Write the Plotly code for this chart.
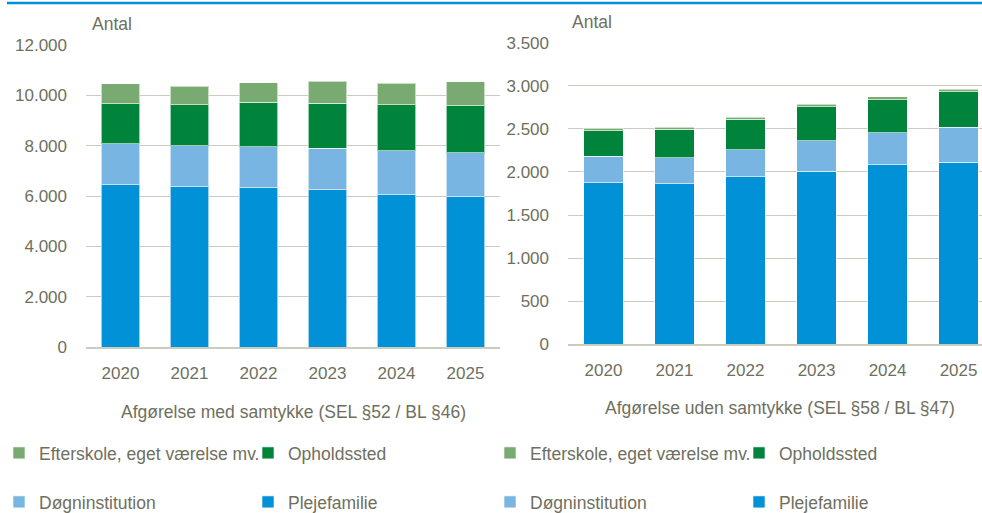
import plotly.graph_objects as go

W, H = 982, 513

aar = ["2020", "2021", "2022", "2023", "2024", "2025"]
serier = ["Plejefamilie", "Døgninstitution", "Opholdssted", "Efterskole, eget værelse mv."]

# Afgørelse med samtykke (SEL §52 / BL §46)
med_pleje = [6450, 6360, 6320, 6240, 6040, 5970]
med_doegn = [1630, 1630, 1630, 1650, 1750, 1750]
med_ophold = [1580, 1630, 1780, 1800, 1830, 1860]
med_efter = [810, 740, 780, 870, 860, 960]

# Afgørelse uden samtykke (SEL §58 / BL §47)
uden_pleje = [1875, 1865, 1945, 2010, 2085, 2110]
uden_doegn = [310, 300, 315, 355, 370, 410]
uden_ophold = [295, 330, 350, 390, 385, 410]
uden_efter = [30, 25, 25, 30, 35, 30]

farver = {
    "Plejefamilie": "#0091D6",
    "Døgninstitution": "#78B5E3",
    "Opholdssted": "#00843C",
    "Efterskole, eget værelse mv.": "#79AA72",
}
TEKST = "#6F6F60"
GRID = "#CBCBC0"
FONT = "Liberation Sans, Arial, sans-serif"


def px_x(p):
    return p / W


def px_y(p):
    return 1 - p / H


# placering af hver legendepost (kolonne, række) i pixels
leg_pos = {
    "Efterskole, eget værelse mv.": (-3, 453),
    "Opholdssted": (246, 453),
    "Døgninstitution": (-3, 502),
    "Plejefamilie": (246, 502),
}

fig = go.Figure()
leg_nr = 1
for dx, akse, data in [(2, ("x", "y"), [med_pleje, med_doegn, med_ophold, med_efter]),
                       (493, ("x2", "y2"), [uden_pleje, uden_doegn, uden_ophold, uden_efter])]:
    for navn, vaerdier in zip(serier, data):
        key = "legend" if leg_nr == 1 else f"legend{leg_nr}"
        fig.add_trace(go.Bar(
            x=aar, y=vaerdier, name=navn, xaxis=akse[0], yaxis=akse[1],
            marker=dict(color=farver[navn], line=dict(color="rgba(255,255,255,0.6)", width=1)),
            legend=key,
        ))
        lx, ly = leg_pos[navn]
        fig.update_layout({key: dict(
            orientation="h", font=dict(family=FONT, size=17.5, color=TEKST),
            x=px_x(dx + lx), y=px_y(ly), xanchor="left", yanchor="middle",
            itemwidth=30, bgcolor="rgba(0,0,0,0)", visible=True,
        )})
        leg_nr += 1

akse_font = dict(family=FONT, size=17, color=TEKST)

fig.update_layout(
    width=W, height=H,
    margin=dict(l=0, r=0, t=0, b=0, autoexpand=False),
    paper_bgcolor="white", plot_bgcolor="white",
    showlegend=True,
    barmode="stack", bargap=0.44,
    separators=",.",
    font=dict(family=FONT, color=TEKST),
    xaxis=dict(domain=[px_x(86), px_x(500)], type="category", tickfont=akse_font,
               showgrid=False, showline=True, linecolor=GRID, linewidth=1.5,
               ticks="", ticklabelstandoff=10, anchor="y"),
    yaxis=dict(domain=[px_y(347), px_y(45)], range=[0, 12000], dtick=2000,
               tickformat=",d", tickfont=akse_font, gridcolor=GRID, gridwidth=1.3,
               zeroline=False, showline=False, ticklabelstandoff=18, anchor="x"),
    xaxis2=dict(domain=[px_x(568), 1], type="category", range=[-0.5, 5.33],
                tickfont=akse_font, showgrid=False, showline=True, linecolor=GRID,
                linewidth=1.5, ticks="", ticklabelstandoff=10, anchor="y2"),
    yaxis2=dict(domain=[px_y(344.3), px_y(42.7)], range=[0, 3500], dtick=500,
                tickformat=",d", tickfont=akse_font, gridcolor=GRID, gridwidth=1.3,
                zeroline=False, showline=False, ticklabelstandoff=18, anchor="x2"),
)

ann = [
    ("Antal", 90, 24, "left"),
    ("Antal", 570, 22, "left"),
    ("Afgørelse med samtykke (SEL §52 / BL §46)", 293, 412, "center"),
    ("Afgørelse uden samtykke (SEL §58 / BL §47)", 780, 408, "center"),
]
for tekst, x, y, align in ann:
    fig.add_annotation(text=tekst, x=px_x(x), y=px_y(y), xref="paper", yref="paper",
                       xanchor=align, yanchor="middle", showarrow=False,
                       font=dict(family=FONT, size=17.5, color=TEKST))

# blå linje øverst
fig.add_shape(type="line", xref="paper", yref="paper", x0=px_x(7), x1=1,
              y0=px_y(3), y1=px_y(3), line=dict(color="#0091D6", width=2.5))

# siden har 8px standardmargen i body; fjern den så figuren fylder vinduet
fig.write_html("out.html", config={"displayModeBar": False},
               post_script="document.body.style.margin='0';")
